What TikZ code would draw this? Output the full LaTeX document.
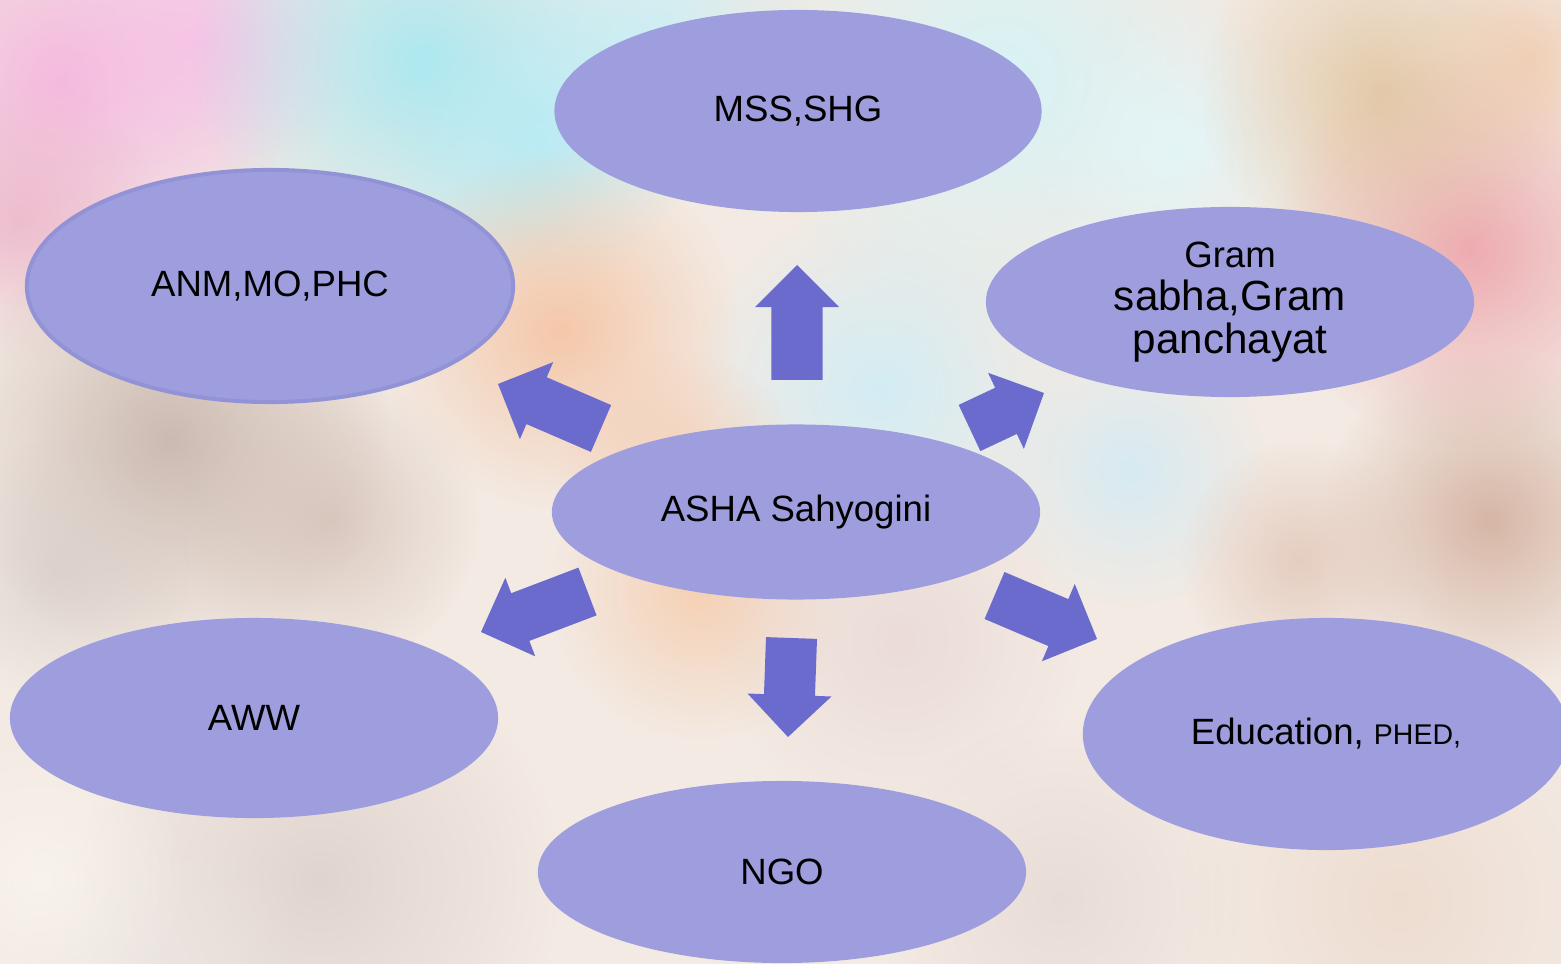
\documentclass[tikz,border=0pt]{standalone}
\usepackage{fontspec}
\setmainfont{Liberation Sans}
\usetikzlibrary{calc,shapes.geometric,fadings}
\definecolor{bubble}{RGB}{158,158,222}
\definecolor{bubbleedge}{RGB}{146,146,214}
\definecolor{pointer}{RGB}{107,107,205}
\definecolor{backdrop}{RGB}{243,234,227}

\tikzfading[name=softspot, inner color=transparent!25, outer color=transparent!100]

% block arrow from a tail coordinate to a tip coordinate
\newcommand{\blockarrow}[2]{%
    \coordinate (#1-hb) at ($(#2)!.42cm!(#1)$);
    \fill[pointer]
        ($(#1)!.255cm!-90:(#2)$) -- ($(#1-hb)!.255cm!-90:(#2)$)
        -- ($(#1-hb)!.42cm!-90:(#2)$) -- (#2)
        -- ($(#1-hb)!.42cm!90:(#2)$) -- ($(#1-hb)!.255cm!90:(#2)$)
        -- ($(#1)!.255cm!90:(#2)$) -- cycle;
}

\begin{document}
\begin{tikzpicture}[
    x=.01cm, y=-.01cm,
    party/.style={ellipse, fill=bubble, inner sep=0pt, align=center,
        font=\fontsize{10.4}{12.2}\selectfont},
]
    \useasboundingbox (0,0) rectangle (1561,964);

    %% blurred photo behind the chart
    \fill[backdrop] (0,0) rectangle (1561,964);
    \foreach \cx/\cy/\r/\cr/\cg/\cb in {
        60/80/230/245/170/220, 200/40/160/248/190/232,
        20/220/140/236/180/200,
        420/60/230/150/232/245, 540/140/150/175/236/248,
        650/40/170/190/240/250,
        1000/80/250/205/246/252, 1180/150/150/225/248/252,
        880/390/190/200/238/250, 1130/470/140/205/235/248,
        560/330/180/246/188/150, 680/470/120/245/200/170,
        700/590/150/246/200/165,
        1470/250/200/236/150/160, 1380/90/180/222/192/150,
        1530/60/120/240/200/170,
        170/440/220/190/170/160, 330/520/150/210/190/180,
        60/570/130/215/205/200,
        1490/520/170/205/165/145, 1300/560/120/225/195/180,
        320/880/240/218/205/200, 150/960/160/235/228/225,
        900/640/180/232/215/212, 1400/900/220/236/216/202,
        1060/900/180/228/216/210, 40/880/150/250/246/238}
        \fill[fill={rgb,255:red,\cr;green,\cg;blue,\cb},
            path fading=softspot] (\cx,\cy) circle (\r);

    %% the bubbles
    \node[party, minimum width=4.87cm, minimum height=2.02cm] (mss)
        at (798,111) {MSS,SHG};
    \node[party, minimum width=4.86cm, minimum height=2.32cm,
        draw=bubbleedge, line width=.04cm] (anm) at (270,286) {ANM,MO,PHC};
    \node[party, minimum width=4.88cm, minimum height=1.9cm] (gram)
        at (1230,302) {Gram\\\fontsize{12}{12.2}\selectfont sabha,Gram\\
         \fontsize{12}{12.2}\selectfont panchayat};
    \node[party, minimum width=4.88cm, minimum height=1.75cm] (asha)
        at (796,512) {ASHA Sahyogini};
    \node[party, minimum width=4.88cm, minimum height=2cm] (aww)
        at (254,718) {AWW};
    \node[party, minimum width=4.86cm, minimum height=2.32cm] (edu)
        at (1326,734) {Education, {\fontsize{8.1}{10}\selectfont PHED,}};
    \node[party, minimum width=4.88cm, minimum height=1.82cm] (ngo)
        at (782,872) {NGO};

    %% arrows out of the centre
    \coordinate (up) at (797,380);    \coordinate (up-tip) at (797,265);
    \coordinate (ul) at (601,428.5);  \coordinate (ul-tip) at (498,384);
    \coordinate (ur) at (969.5,428);  \coordinate (ur-tip) at (1044,393);
    \coordinate (dl) at (587.5,591.5); \coordinate (dl-tip) at (481,632);
    \coordinate (dn) at (791.5,638);  \coordinate (dn-tip) at (788,737);
    \coordinate (dr) at (994.5,595.5); \coordinate (dr-tip) at (1097,639);
    \blockarrow{up}{up-tip}
    \blockarrow{ul}{ul-tip}
    \blockarrow{ur}{ur-tip}
    \blockarrow{dl}{dl-tip}
    \blockarrow{dn}{dn-tip}
    \blockarrow{dr}{dr-tip}
\end{tikzpicture}
\end{document}
